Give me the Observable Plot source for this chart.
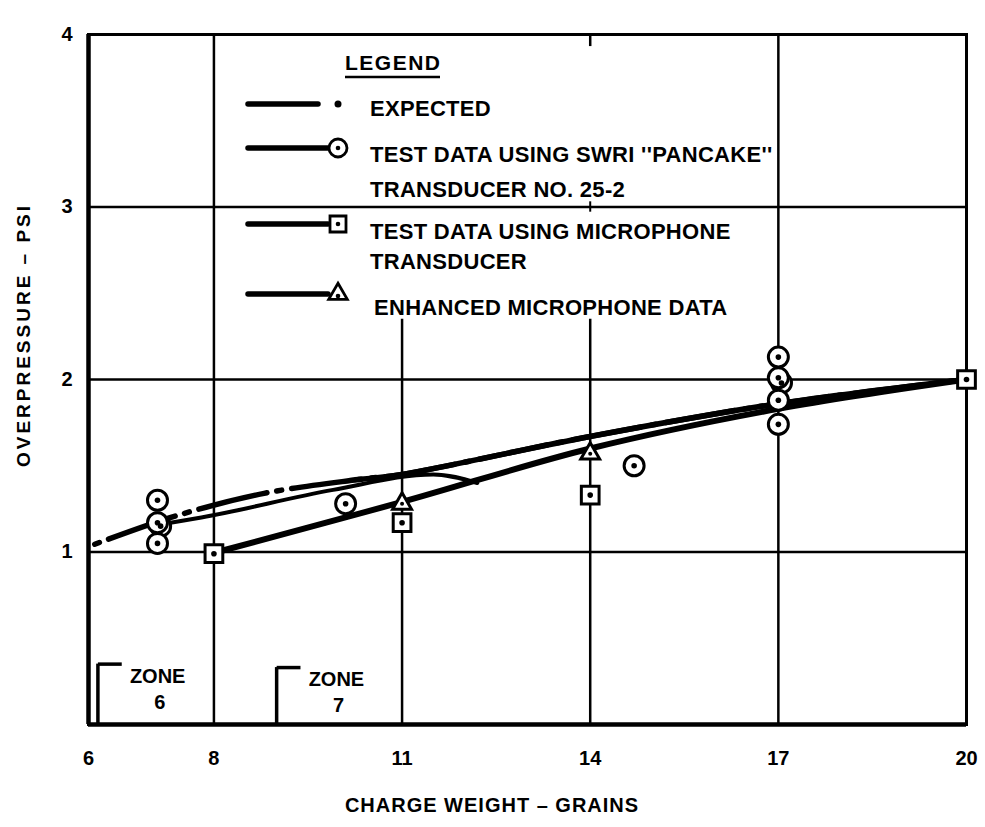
<!DOCTYPE html>
<html><head><meta charset="utf-8">
<script src="https://cdn.jsdelivr.net/npm/d3@7"></script>
<script src="https://cdn.jsdelivr.net/npm/@observablehq/plot@0.6"></script>
<style>
html,body{margin:0;padding:0;background:#fff;}
#chart{width:985px;height:827px;}
svg text{font-family:"Liberation Sans",Arial,sans-serif;}
</style></head><body><div id="chart"></div>
<script>
// ---------------- data ----------------
const xTicks = [6, 8, 11, 14, 17, 20];
const yTicks = [1, 2, 3, 4];
const gridY = [1, 2, 3];
const fullGridX = [8, 17];
const partialGridX = [11, 14];
const partialGridTop = 2.35;

// curves
const expectedX = [6.1, 7.4, 8.8, 10.3, 11, 14, 17, 20];
const expectedY = [1.045, 1.21, 1.34, 1.42, 1.45, 1.67, 1.86, 2.0];
const pancakeLineX = [7.15, 7.8, 9.9, 11.5, 12.2];
const pancakeLineY = [1.16, 1.20, 1.36, 1.45, 1.40];
const micLineX = [8.05, 11, 14, 17, 20];
const micLineY = [1.0, 1.29, 1.60, 1.83, 2.0];

// plotted points
const pancakeX = [7.1, 7.15, 7.1, 7.1, 10.1, 14.7, 17, 17.05, 17, 17, 17];
const pancakeY = [1.30, 1.15, 1.17, 1.05, 1.28, 1.50, 2.13, 1.98, 2.01, 1.88, 1.74];
const micX = [8, 11, 14, 20];
const micY = [0.99, 1.17, 1.33, 2.0];
const enhancedX = [11, 14];
const enhancedY = [1.28, 1.57];

// zone brackets
const zoneX = [6.15, 9.0];
const zoneTop = [0.35, 0.33];
const zoneName = ["ZONE", "ZONE"];
const zoneNum = ["6", "7"];

// texts
const xTitle = "CHARGE WEIGHT – GRAINS";
const yTitle = "OVERPRESSURE – PSI";
const legendTitle = "LEGEND";
const legendLabels = [
  ["EXPECTED"],
  ["TEST DATA USING SWRI ''PANCAKE''", "TRANSDUCER NO. 25-2"],
  ["TEST DATA USING MICROPHONE", "TRANSDUCER"],
  ["ENHANCED MICROPHONE DATA"]
];
const legendSymbols = ["dot", "circle", "square", "triangle"];

// ---------------- tables ----------------
const zip = (xs, ys) => xs.map((x, i) => ({x, y: ys[i]}));
const expected = zip(expectedX, expectedY);
const pancakeLine = zip(pancakeLineX, pancakeLineY);
const micLine = zip(micLineX, micLineY);
const pancake = zip(pancakeX, pancakeY);
const mic = zip(micX, micY);
const enhanced = zip(enhancedX, enhancedY);
const zones = zoneX.map((x, i) => ({x, top: zoneTop[i], name: zoneName[i], num: zoneNum[i]}));
const bracketLen = 0.38;

const font = "Liberation Sans, Arial, sans-serif";
const chart = Plot.plot({
  width: 985, height: 827,
  marginLeft: 88, marginRight: 19, marginTop: 34, marginBottom: 103,
  style: {fontFamily: font, background: "#fff", color: "#000"},
  x: {domain: [6, 20]},
  y: {domain: [0, 4]},
  marks: [
    Plot.ruleY(gridY, {stroke: "#000", strokeWidth: 2.5}),
    Plot.ruleX(fullGridX, {stroke: "#000", strokeWidth: 2.5}),
    Plot.ruleX(partialGridX, {y1: 0, y2: partialGridTop, stroke: "#000", strokeWidth: 2.5}),
    Plot.ruleX([14], {y1: 3.93, y2: 4, stroke: "#000", strokeWidth: 2.5}),
    Plot.ruleX([14], {y1: 2.97, y2: 3.03, stroke: "#000", strokeWidth: 2}),
    Plot.frame({stroke: "#000", strokeWidth: 3}),
    Plot.ruleX([6], {stroke: "#000", strokeWidth: 4.5}),
    Plot.ruleY([0], {stroke: "#000", strokeWidth: 4.5}),
    Plot.axisX(xTicks, {tickSize: 0, tickPadding: 26, fontSize: 20, fontWeight: "bold", label: null, tickFormat: "d"}),
    Plot.axisY(yTicks, {tickSize: 0, tickPadding: 16, fontSize: 20, fontWeight: "bold", label: null, tickFormat: "d"}),
    // zone brackets
    Plot.ruleX(zones, {x: "x", y1: 0, y2: "top", stroke: "#000", strokeWidth: 3.5}),
    Plot.link(zones, {x1: "x", x2: d => d.x + bracketLen, y1: "top", y2: "top", stroke: "#000", strokeWidth: 3.5}),
    Plot.text(zones, {x: "x", y: "top", text: "name", textAnchor: "start", dx: 32, dy: 12, fontSize: 20, fontWeight: "bold"}),
    Plot.text(zones, {x: "x", y: "top", text: "num", textAnchor: "middle", dx: 62, dy: 38, fontSize: 20, fontWeight: "bold"}),
    // curves
    Plot.line(expected, {x: "x", y: "y", stroke: "#000", strokeWidth: 5.5, strokeDasharray: "5,10,70,10", curve: "catmull-rom"}),
    Plot.line(expected.filter(d => d.x >= 10.3), {x: "x", y: "y", stroke: "#000", strokeWidth: 5.5, curve: "catmull-rom"}),
    Plot.line(pancakeLine, {x: "x", y: "y", stroke: "#000", strokeWidth: 4, curve: "monotone-x"}),
    Plot.line(micLine, {x: "x", y: "y", stroke: "#000", strokeWidth: 6, curve: "catmull-rom"}),
    // markers
    Plot.dot(pancake, {x: "x", y: "y", r: 10, fill: "#fff", stroke: "#000", strokeWidth: 3}),
    Plot.dot(pancake, {x: "x", y: "y", r: 2.8, fill: "#000"}),
    Plot.dot(mic, {x: "x", y: "y", symbol: "square", r: 10, fill: "#fff", stroke: "#000", strokeWidth: 3}),
    Plot.dot(mic, {x: "x", y: "y", r: 2.8, fill: "#000"}),
    Plot.dot(enhanced, {x: "x", y: "y", symbol: "triangle", r: 7, fill: "#fff", stroke: "#000", strokeWidth: 3}),
    Plot.dot(enhanced, {x: "x", y: "y", r: 2, fill: "#000"})
  ]
});
document.getElementById("chart").appendChild(chart);

// ---------------- titles & legend ----------------
const svg = d3.select(chart);
svg.append("text").attr("transform", "translate(30,335) rotate(-90)")
  .attr("text-anchor", "middle").attr("font-size", 19).attr("font-weight", "bold")
  .attr("letter-spacing", 3).attr("fill", "#000").attr("font-family", font).text(yTitle);
svg.append("text").attr("x", 492).attr("y", 812)
  .attr("text-anchor", "middle").attr("font-size", 20).attr("font-weight", "bold")
  .attr("letter-spacing", 1).attr("fill", "#000").attr("font-family", font).text(xTitle);

const lg = svg.append("g").attr("font-family", font).attr("font-weight", "bold")
  .attr("fill", "#000").attr("text-anchor", "start");
lg.append("text").attr("x", 345).attr("y", 70).attr("text-anchor", "start")
  .attr("font-size", 21).attr("letter-spacing", 1.5).text(legendTitle);
lg.append("line").attr("x1", 345).attr("x2", 440).attr("y1", 77).attr("y2", 77).attr("stroke", "#000").attr("stroke-width", 2.5);

const rowY = [104, 148, 224, 294];
const lineBaselines = [[116], [162, 197], [239, 269], [315]];
legendLabels.forEach((lines, i) => {
  const y = rowY[i];
  lg.append("line").attr("x1", 248).attr("x2", i === 0 ? 318 : 328).attr("y1", y).attr("y2", y)
    .attr("stroke", "#000").attr("stroke-width", 5.5).attr("stroke-linecap", "round");
  const sym = legendSymbols[i];
  const cx = 338;
  if (sym === "dot") {
    lg.append("circle").attr("cx", cx).attr("cy", y).attr("r", 3.5).attr("fill", "#000");
  } else {
    const type = sym === "circle" ? d3.symbolCircle : sym === "square" ? d3.symbolSquare : d3.symbolTriangle;
    const size = sym === "circle" ? Math.PI * 81 : sym === "square" ? 256 : 150;
    lg.append("path").attr("transform", `translate(${cx},${y})`).attr("d", d3.symbol(type, size)())
      .attr("fill", "#fff").attr("stroke", "#000").attr("stroke-width", 2.8);
    lg.append("circle").attr("cx", cx).attr("cy", y + (sym === "triangle" ? 2 : 0)).attr("r", 2.3).attr("fill", "#000");
  }
  lines.forEach((t, j) => {
    lg.append("text").attr("x", i === 3 ? 374 : 370).attr("y", lineBaselines[i][j])
      .attr("text-anchor", "start").attr("font-size", 22).attr("letter-spacing", 0.3).text(t);
  });
});
</script></body></html>
